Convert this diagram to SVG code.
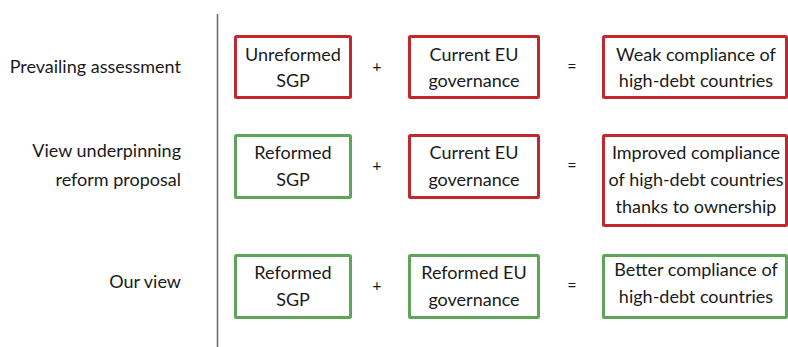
<svg xmlns="http://www.w3.org/2000/svg" width="788" height="347" viewBox="0 0 788 347">
<style>
text{font-family:"Source Sans Pro",Lato,"Liberation Sans",sans-serif;font-size:18px;fill:#1a1a1a}
.c{text-anchor:middle}
.r{text-anchor:end}
.red{fill:#fff;stroke:#c1272d;stroke-width:3}
.grn{fill:#fff;stroke:#5ea55a;stroke-width:3}
.op{text-anchor:middle;font-size:16px}
</style>
<line x1="217.5" y1="14" x2="217.5" y2="347" stroke="#666" stroke-width="1.5"/>
<g id="labels">
<text class="r" x="181" y="73">Prevailing assessment</text>
<text class="r" x="181" y="157">View underpinning</text>
<text class="r" x="181" y="186">reform proposal</text>
<text class="r" x="181" y="288">Our view</text>
</g>
<g id="r1b1"><rect class="red" x="235.5" y="36.5" width="115" height="61" rx="1"/><text class="c" x="293" y="61">Unreformed</text><text class="c" x="293" y="87">SGP</text></g>
<g id="r1b2"><rect class="red" x="409.5" y="36.5" width="129" height="61" rx="1"/><text class="c" x="474" y="61">Current EU</text><text class="c" x="474" y="87">governance</text></g>
<g id="r1b3"><rect class="red" x="603.5" y="36.5" width="183" height="61" rx="1"/><text class="c" x="696" y="61">Weak compliance of</text><text class="c" x="696" y="87">high-debt countries</text></g>
<g id="r2b1"><rect class="grn" x="235.5" y="135.5" width="115" height="62" rx="1"/><text class="c" x="293" y="159">Reformed</text><text class="c" x="293" y="186">SGP</text></g>
<g id="r2b2"><rect class="red" x="409.5" y="135.5" width="129" height="62" rx="1"/><text class="c" x="474" y="159">Current EU</text><text class="c" x="474" y="186">governance</text></g>
<g id="r2b3"><rect class="red" x="603.5" y="135.5" width="183" height="90" rx="1"/><text class="c" x="696" y="159">Improved compliance</text><text class="c" x="696" y="186">of high-debt countries</text><text class="c" x="696" y="213">thanks to ownership</text></g>
<g id="r3b1"><rect class="grn" x="235.5" y="255.5" width="115" height="62" rx="1"/><text class="c" x="293" y="279">Reformed</text><text class="c" x="293" y="306">SGP</text></g>
<g id="r3b2"><rect class="grn" x="409.5" y="255.5" width="129" height="62" rx="1"/><text class="c" x="474" y="279">Reformed EU</text><text class="c" x="474" y="306">governance</text></g>
<g id="r3b3"><rect class="grn" x="603.5" y="255.5" width="183" height="62" rx="1"/><text class="c" x="696" y="276">Better compliance of</text><text class="c" x="696" y="303">high-debt countries</text></g>
<g id="connectors">
<text class="op" x="377" y="72">+</text><text class="op" x="572" y="72">=</text>
<text class="op" x="377" y="171">+</text><text class="op" x="572" y="171">=</text>
<text class="op" x="377" y="291">+</text><text class="op" x="572" y="291">=</text>
</g>
</svg>
